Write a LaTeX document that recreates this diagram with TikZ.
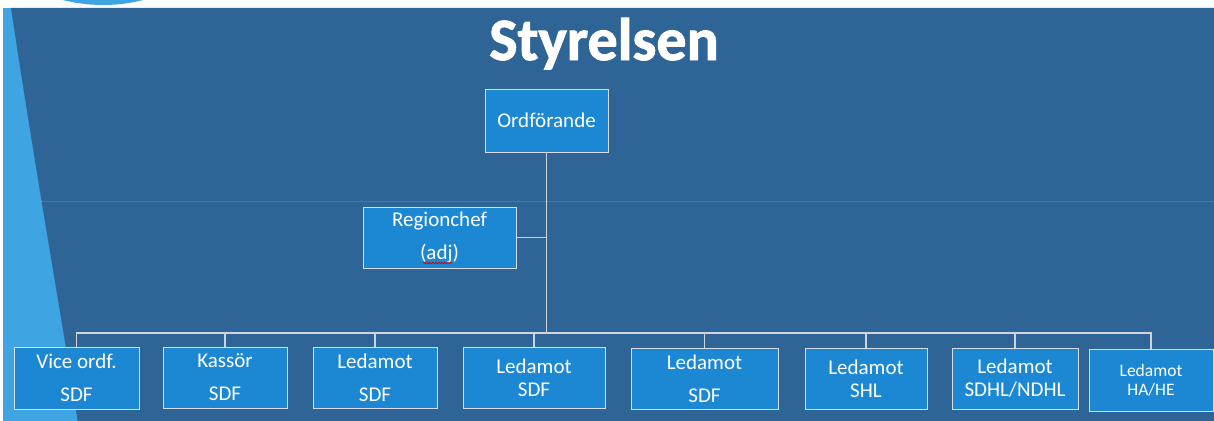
\documentclass[tikz,border=0pt]{standalone}
\usepackage{fontspec}
\setmainfont{Carlito}
\newfontfamily\titlefont{Carlito Bold}[FakeBold=1.6]
\usetikzlibrary{decorations.pathmorphing}
\definecolor{bgdark}{RGB}{46,100,150}
\definecolor{bglight}{RGB}{62,164,226}
\definecolor{boxblue}{RGB}{28,136,212}
\definecolor{linegrey}{RGB}{205,212,220}
\tikzset{
  orgbox/.style={draw=linegrey!80!white, line width=0.9pt, fill=boxblue, text=white,
    inner sep=0pt, align=center, minimum height=61pt},
  conn/.style={draw=linegrey, line width=1.4pt},
  wide/.style={font=\fontsize{21}{33}\selectfont},
  tight/.style={font=\fontsize{21}{23}\selectfont},
  small/.style={font=\fontsize{17.5}{19}\selectfont}
}
\begin{document}
\begin{tikzpicture}[x=1pt,y=-1pt]
\useasboundingbox (0,0) rectangle (1214,420);
% background
\fill[white] (-5,-5) rectangle (1220,430);
\begin{scope}
\clip (-5,-5) rectangle (1220,430);
\fill[bglight] (103,-157.5) circle (162.5);
\end{scope}
\fill[bglight] (3,8) rectangle (1220,430);
\fill[bgdark] (11,8) -- (1220,8) -- (1220,430) -- (79,430) .. controls (64,330) and (40,200) .. (11,8) -- cycle;
\draw[white, opacity=0.12, line width=1pt] (40,201) -- (1220,201);
% title
\node[anchor=base, text=white, font=\fontsize{60}{62}\titlefont] (title) at (604,60) {Styrelsen};
% boxes
\node[orgbox, wide, minimum width=123pt, minimum height=63pt] (ord) at (546.5,120.5) {Ordförande};
\node[orgbox, wide, minimum width=153pt] (reg) at (439.5,237.5) {Regionchef\\(adj)};
\node[orgbox, wide, minimum width=125pt, minimum height=62pt] (b1) at (76.5,378) {Vice ordf.\\SDF};
\node[orgbox, wide, minimum width=124pt] (b2) at (225,377.5) {Kassör\\SDF};
\node[orgbox, wide, minimum width=124pt] (b3) at (375,377.5) {Ledamot\\SDF};
\node[orgbox, tight, minimum width=142pt] (b4) at (534,377.5) {Ledamot\\SDF};
\node[orgbox, wide, minimum width=147pt] (b5) at (704.5,378.5) {Ledamot\\SDF};
\node[orgbox, tight, minimum width=122pt] (b6) at (866,378.5) {Ledamot\\SHL};
\node[orgbox, tight, minimum width=126pt] (b7) at (1015,378.5) {Ledamot\\SDHL/NDHL};
\node[orgbox, small, minimum width=124pt, minimum height=62pt] (b8) at (1151,380) {Ledamot\\HA/HE};
% spell-check squiggle
\coordinate (sqa) at (423,263);
\coordinate (sqb) at (452,263);
\draw[red!80!black, line width=0.7pt, decorate, decoration={snake, amplitude=0.8pt, segment length=3pt}] (sqa) -- (sqb);
% connectors
\coordinate (busy) at (0,333);
\draw[conn] (ord.south) -- (ord.south |- busy);
\draw[conn] (reg.east) -- (reg.east -| ord.south);
\draw[conn] (b1.north) -- (b1.north |- busy) -- (b8.north |- busy) -- (b8.north);
\foreach \b in {b2,b3,b4,b5,b6,b7}{
  \draw[conn] (\b.north) -- (\b.north |- busy);
}
\end{tikzpicture}
\end{document}
